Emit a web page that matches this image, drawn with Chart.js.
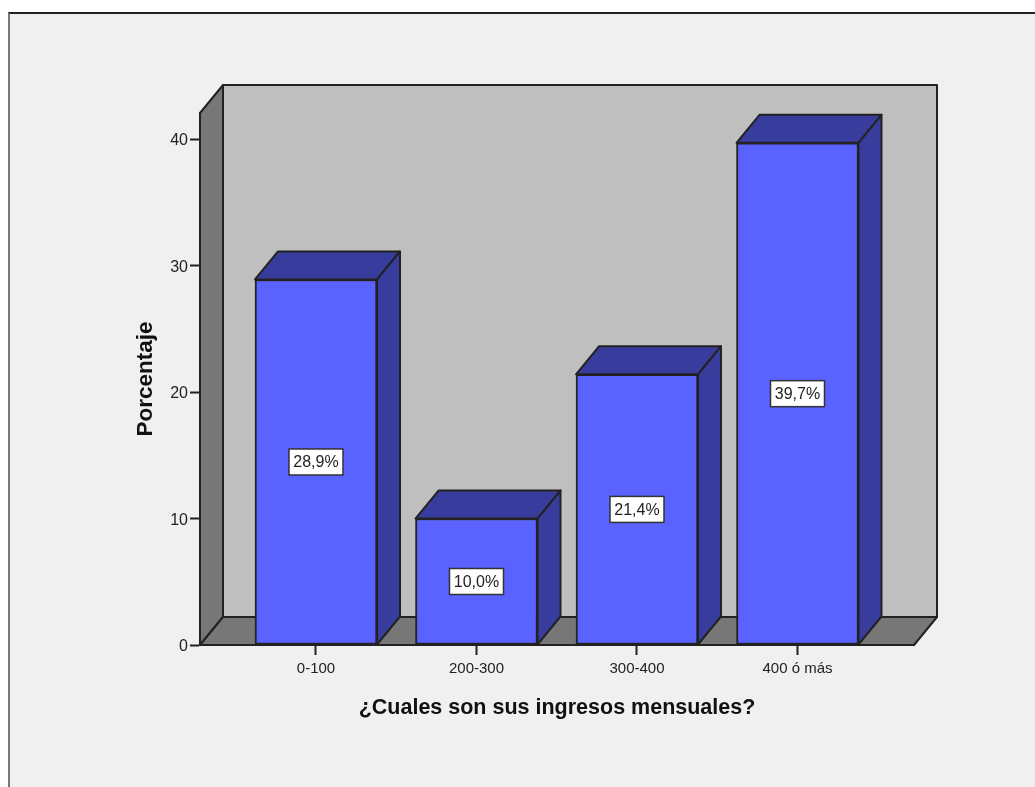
<!DOCTYPE html>
<html>
<head>
<meta charset="utf-8">
<title>Ingresos mensuales</title>
<script src="https://cdn.jsdelivr.net/npm/chart.js@4/dist/chart.umd.min.js"></script>
<style>
  html, body { margin: 0; padding: 0; background: #fff; overflow: hidden; }
  #frame { position: absolute; left: 8px; top: 12px; width: 1040px; height: 800px;
    background: #f0f0f0; border-left: 2px solid #777; border-top: 2px solid #222; box-sizing: border-box; }
  #wrap { position: absolute; left: 0; top: 0; width: 1035px; height: 787px; }
</style>
</head>
<body>
<div id="frame"></div>
<div id="wrap"><canvas id="chart"></canvas></div>
<script>
  var categories = ["0-100", "200-300", "300-400", "400 ó más"];
  var percentages = [28.9, 10.0, 21.4, 39.7];
  var valueLabels = ["28,9%", "10,0%", "21,4%", "39,7%"];
  var yTicks = [0, 10, 20, 30, 40];
  var yTitle = "Porcentaje";
  var xTitle = "¿Cuales son sus ingresos mensuales?";

  var FONT = "'Liberation Sans', Arial, sans-serif";
  var INK = "#222";
  var DX = 23, DY = 28; // depth of the fake 3D box

  function poly(ctx, pts, fill) {
    ctx.beginPath();
    ctx.moveTo(pts[0][0], pts[0][1]);
    for (var i = 1; i < pts.length; i++) ctx.lineTo(pts[i][0], pts[i][1]);
    ctx.closePath();
    ctx.fillStyle = fill;
    ctx.fill();
    ctx.stroke();
  }

  // Box behind the bars, then top and right faces of each bar.
  var box3d = {
    id: "box3d",
    beforeDatasetsDraw: function (chart) {
      var a = chart.chartArea, ctx = chart.ctx;
      ctx.save();
      ctx.strokeStyle = INK;
      ctx.lineWidth = 2;
      ctx.lineJoin = "round";
      poly(ctx, [[a.left + DX, a.top - DY], [a.right + DX, a.top - DY],
        [a.right + DX, a.bottom - DY], [a.left + DX, a.bottom - DY]], "#bfbfbf");
      poly(ctx, [[a.left, a.top], [a.left + DX, a.top - DY],
        [a.left + DX, a.bottom - DY], [a.left, a.bottom]], "#777777");
      poly(ctx, [[a.left, a.bottom], [a.left + DX, a.bottom - DY],
        [a.right + DX, a.bottom - DY], [a.right, a.bottom]], "#777777");
      chart.getDatasetMeta(0).data.forEach(function (el) {
        var l = el.x - el.width / 2, r = el.x + el.width / 2;
        poly(ctx, [[l, el.y], [l + DX, el.y - DY], [r + DX, el.y - DY], [r, el.y]], "#383c9c");
        poly(ctx, [[r, el.y], [r + DX, el.y - DY], [r + DX, el.base - DY], [r, el.base]], "#383c9c");
      });
      ctx.restore();
    },
    afterDatasetsDraw: function (chart) {
      var ctx = chart.ctx;
      ctx.save();
      ctx.font = "16px " + FONT;
      ctx.textAlign = "center";
      ctx.textBaseline = "middle";
      chart.getDatasetMeta(0).data.forEach(function (el, i) {
        var cy = (el.y + el.base) / 2;
        ctx.fillStyle = "#fff";
        ctx.strokeStyle = "#333";
        ctx.lineWidth = 1.5;
        ctx.fillRect(el.x - 27, cy - 13, 54, 26);
        ctx.strokeRect(el.x - 27, cy - 13, 54, 26);
        ctx.fillStyle = "#222";
        ctx.fillText(valueLabels[i], el.x, cy + 1);
      });
      ctx.restore();
    }
  };

  new Chart(document.getElementById("chart"), {
    type: "bar",
    data: {
      datasets: [{
        data: percentages.map(function (v, i) { return { x: i, y: v }; }),
        backgroundColor: "#5a62ff",
        borderColor: INK,
        borderWidth: 2,
        borderSkipped: false,
        barThickness: 122
      }]
    },
    plugins: [box3d],
    options: {
      responsive: true,
      maintainAspectRatio: false,
      animation: false,
      layout: { padding: { left: 128, right: 121, top: 113, bottom: 62 } },
      plugins: { legend: { display: false }, tooltip: { enabled: false } },
      scales: {
        x: {
          type: "linear",
          offset: false,
          min: -0.7227,
          max: 3.7259,
          afterBuildTicks: function (s) {
            s.ticks = categories.map(function (c, i) { return { value: i }; });
          },
          afterFit: function (s) { s.height = 80; },
          ticks: {
            autoSkip: false, maxRotation: 0, color: "#222", padding: 5,
            font: { family: FONT, size: 15 },
            callback: function (v) { return categories[v]; }
          },
          grid: { offset: false, drawOnChartArea: false, tickLength: 10, tickColor: INK, tickWidth: 2 },
          border: { color: INK, width: 2 },
          title: { display: true, text: xTitle, color: "#111",
            font: { family: FONT, size: 21.5, weight: "bold" }, padding: { top: 0 } }
        },
        y: {
          min: 0,
          max: 42.06,
          afterBuildTicks: function (s) {
            s.ticks = yTicks.map(function (v) { return { value: v }; });
          },
          afterFit: function (s) { s.width = 72; },
          ticks: { color: "#222", padding: 2, labelOffset: 2, font: { family: FONT, size: 16 } },
          grid: { drawOnChartArea: false, tickLength: 10, tickColor: INK, tickWidth: 2 },
          border: { color: INK, width: 2 },
          title: { display: true, text: yTitle, color: "#111",
            font: { family: FONT, size: 22.5, weight: "bold" }, padding: { bottom: 0 } }
        }
      }
    }
  });
</script>
</body>
</html>
